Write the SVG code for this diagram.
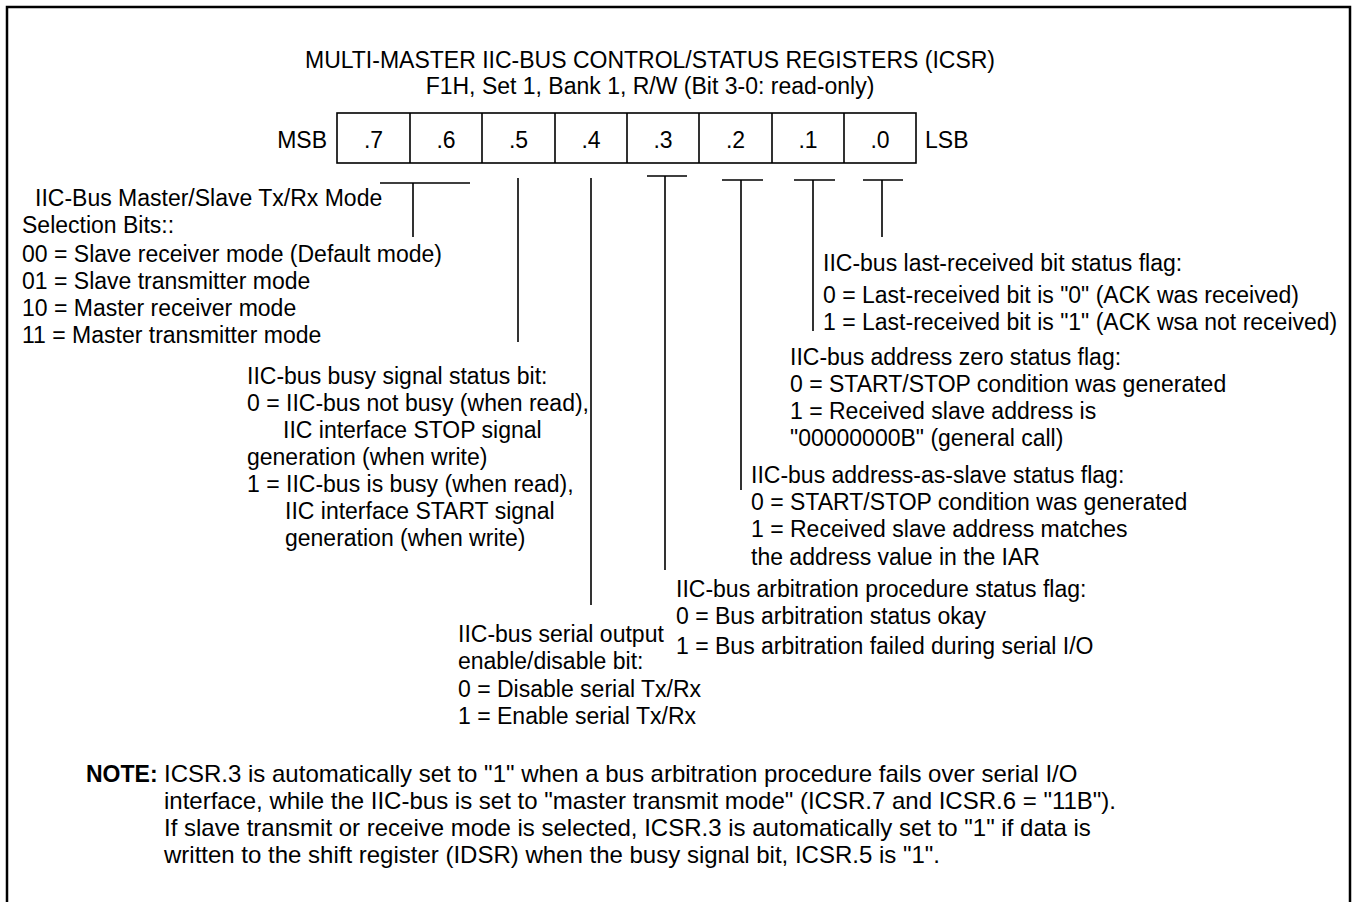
<svg xmlns="http://www.w3.org/2000/svg" width="1352" height="902" viewBox="0 0 1352 902">
<style>
text{font-family:"Liberation Sans",Arial,sans-serif;font-size:23px;fill:#000}
.c{text-anchor:middle}
.b{font-weight:bold}
.n{font-size:24px}
.ln{stroke:#000;stroke-width:1.6;fill:none}
</style>
<rect width="1352" height="902" fill="#fff"/>
<path d="M7,905 V7 H1350 V905" fill="none" stroke="#000" stroke-width="2.5"/>
<g id="title">
<text class="c" x="650" y="68">MULTI-MASTER IIC-BUS CONTROL/STATUS REGISTERS (ICSR)</text>
<text class="c" x="650" y="94">F1H, Set 1, Bank 1, R/W (Bit 3-0: read-only)</text>
</g>
<g id="register">
<rect class="ln" x="337" y="113" width="579" height="50"/>
<path class="ln" d="M410,113V163M482,113V163M555,113V163M627,113V163M699,113V163M772,113V163M844,113V163"/>
<text x="327" y="148" style="text-anchor:end">MSB</text>
<text class="c" x="373.5" y="148">.7</text>
<text class="c" x="446" y="148">.6</text>
<text class="c" x="518.5" y="148">.5</text>
<text class="c" x="591" y="148">.4</text>
<text class="c" x="663" y="148">.3</text>
<text class="c" x="735.5" y="148">.2</text>
<text class="c" x="808" y="148">.1</text>
<text class="c" x="880" y="148">.0</text>
<text x="925" y="148">LSB</text>
</g>
<g id="connectors">
<path class="ln" d="M380,183H470M413,183V237"/>
<path class="ln" d="M518,178V342"/>
<path class="ln" d="M591,178V605"/>
<path class="ln" d="M647,176H687M665,176V570"/>
<path class="ln" d="M722,180H763M741,180V490"/>
<path class="ln" d="M794,180H835M813,180V331"/>
<path class="ln" d="M863,180H903M882,180V237"/>
</g>
<g id="bits76">
<text x="35" y="206">IIC-Bus Master/Slave Tx/Rx Mode</text>
<text x="22" y="233">Selection Bits::</text>
<text x="22" y="262">00 = Slave receiver mode (Default mode)</text>
<text x="22" y="289">01 = Slave transmitter mode</text>
<text x="22" y="316">10 = Master receiver mode</text>
<text x="22" y="343">11 = Master transmitter mode</text>
</g>
<g id="bit5">
<text x="247" y="384">IIC-bus busy signal status bit:</text>
<text x="247" y="411">0 = IIC-bus not busy (when read),</text>
<text x="283" y="438">IIC interface STOP signal</text>
<text x="247" y="465">generation (when write)</text>
<text x="247" y="492">1 = IIC-bus is busy (when read),</text>
<text x="285" y="519">IIC interface START signal</text>
<text x="285" y="546">generation (when write)</text>
</g>
<g id="bit4">
<text x="458" y="642">IIC-bus serial output</text>
<text x="458" y="669">enable/disable bit:</text>
<text x="458" y="697">0 = Disable serial Tx/Rx</text>
<text x="458" y="724">1 = Enable serial Tx/Rx</text>
</g>
<g id="bit3">
<text x="676" y="597">IIC-bus arbitration procedure status flag:</text>
<text x="676" y="624">0 = Bus arbitration status okay</text>
<text x="676" y="654">1 = Bus arbitration failed during serial I/O</text>
</g>
<g id="bit2">
<text x="751" y="483">IIC-bus address-as-slave status flag:</text>
<text x="751" y="510">0 = START/STOP condition was generated</text>
<text x="751" y="537">1 = Received slave address matches</text>
<text x="751" y="565">the address value in the IAR</text>
</g>
<g id="bit1">
<text x="790" y="365">IIC-bus address zero status flag:</text>
<text x="790" y="392">0 = START/STOP condition was generated</text>
<text x="790" y="419">1 = Received slave address is</text>
<text x="790" y="446">"00000000B" (general call)</text>
</g>
<g id="bit0">
<text x="823" y="271">IIC-bus last-received bit status flag:</text>
<text x="823" y="303">0 = Last-received bit is "0" (ACK was received)</text>
<text x="823" y="330">1 = Last-received bit is "1" (ACK wsa not received)</text>
</g>
<g id="note">
<text class="b" x="86" y="782">NOTE:</text>
<text class="n" x="164" y="782">ICSR.3 is automatically set to "1" when a bus arbitration procedure fails over serial I/O</text>
<text class="n" x="164" y="809">interface, while the IIC-bus is set to "master transmit mode" (ICSR.7 and ICSR.6 = "11B").</text>
<text class="n" x="164" y="836">If slave transmit or receive mode is selected, ICSR.3 is automatically set to "1" if data is</text>
<text class="n" x="164" y="863">written to the shift register (IDSR) when the busy signal bit, ICSR.5 is "1".</text>
</g>
</svg>
